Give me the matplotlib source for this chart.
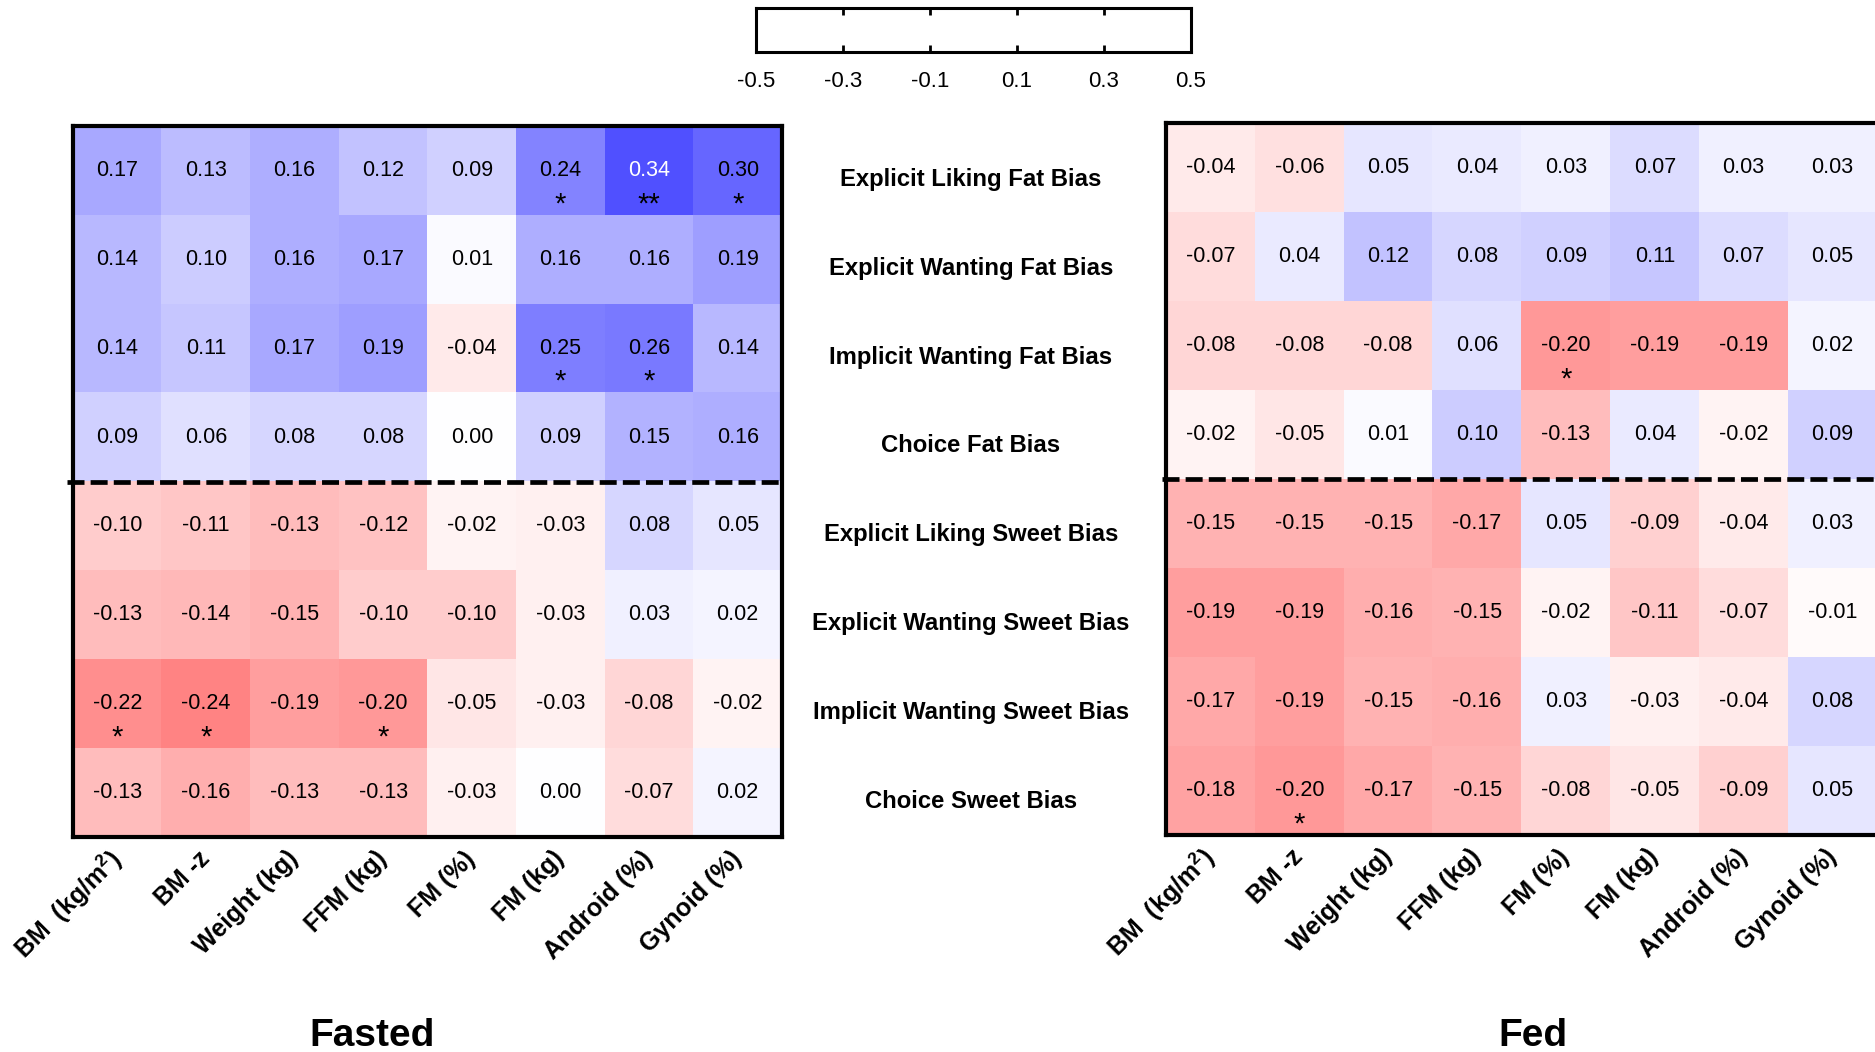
import numpy as np
import matplotlib.pyplot as plt
from matplotlib import transforms

plt.rcParams["font.family"] = "Liberation Sans"
plt.rcParams["mathtext.fontset"] = "custom"
plt.rcParams["mathtext.rm"] = "Liberation Sans"
plt.rcParams["mathtext.bf"] = "Liberation Sans:bold"

# Body composition measures (columns) and bias measures (rows)
measures = ["BM  (kg/m$^{\\mathbf{2}}$)", "BM -z", "Weight (kg)", "FFM (kg)",
            "FM (%)", "FM (kg)", "Android (%)", "Gynoid (%)"]
biases = ["Explicit Liking Fat Bias", "Explicit Wanting Fat Bias",
          "Implicit Wanting Fat Bias", "Choice Fat Bias",
          "Explicit Liking Sweet Bias", "Explicit Wanting Sweet Bias",
          "Implicit Wanting Sweet Bias", "Choice Sweet Bias"]

# Correlation coefficients, fasted condition
fasted = [
    [0.17, 0.13, 0.16, 0.12, 0.09, 0.24, 0.34, 0.30],
    [0.14, 0.10, 0.16, 0.17, 0.01, 0.16, 0.16, 0.19],
    [0.14, 0.11, 0.17, 0.19, -0.04, 0.25, 0.26, 0.14],
    [0.09, 0.06, 0.08, 0.08, 0.00, 0.09, 0.15, 0.16],
    [-0.10, -0.11, -0.13, -0.12, -0.02, -0.03, 0.08, 0.05],
    [-0.13, -0.14, -0.15, -0.10, -0.10, -0.03, 0.03, 0.02],
    [-0.22, -0.24, -0.19, -0.20, -0.05, -0.03, -0.08, -0.02],
    [-0.13, -0.16, -0.13, -0.13, -0.03, 0.00, -0.07, 0.02],
]
fasted_sig = [
    ["", "", "", "", "", "*", "**", "*"],
    ["", "", "", "", "", "", "", ""],
    ["", "", "", "", "", "*", "*", ""],
    ["", "", "", "", "", "", "", ""],
    ["", "", "", "", "", "", "", ""],
    ["", "", "", "", "", "", "", ""],
    ["*", "*", "", "*", "", "", "", ""],
    ["", "", "", "", "", "", "", ""],
]

# Correlation coefficients, fed condition
fed = [
    [-0.04, -0.06, 0.05, 0.04, 0.03, 0.07, 0.03, 0.03],
    [-0.07, 0.04, 0.12, 0.08, 0.09, 0.11, 0.07, 0.05],
    [-0.08, -0.08, -0.08, 0.06, -0.20, -0.19, -0.19, 0.02],
    [-0.02, -0.05, 0.01, 0.10, -0.13, 0.04, -0.02, 0.09],
    [-0.15, -0.15, -0.15, -0.17, 0.05, -0.09, -0.04, 0.03],
    [-0.19, -0.19, -0.16, -0.15, -0.02, -0.11, -0.07, -0.01],
    [-0.17, -0.19, -0.15, -0.16, 0.03, -0.03, -0.04, 0.08],
    [-0.18, -0.20, -0.17, -0.15, -0.08, -0.05, -0.09, 0.05],
]
fed_sig = [
    ["", "", "", "", "", "", "", ""],
    ["", "", "", "", "", "", "", ""],
    ["", "", "", "", "*", "", "", ""],
    ["", "", "", "", "", "", "", ""],
    ["", "", "", "", "", "", "", ""],
    ["", "", "", "", "", "", "", ""],
    ["", "", "", "", "", "", "", ""],
    ["", "*", "", "", "", "", "", ""],
]

cbar_ticks = [-0.5, -0.3, -0.1, 0.1, 0.3, 0.5]

W, H = 1875, 1052
fig = plt.figure(figsize=(W / 100, H / 100), dpi=100)


def px_axes(left, top, right, bottom):
    return fig.add_axes([left / W, 1 - bottom / H, (right - left) / W, (bottom - top) / H])


def draw_heatmap(ax, values, sig, dash_from):
    vals = np.array(values)
    ax.imshow(vals, cmap="bwr_r", vmin=-0.5, vmax=0.5, aspect="auto",
              interpolation="nearest")
    for i in range(vals.shape[0]):
        for j in range(vals.shape[1]):
            v = vals[i, j]
            color = "white" if abs(v) > 0.32 else "black"
            ax.text(j, i, f"{v:.2f}", ha="center", va="center",
                    fontsize=15.5, color=color)
            if sig[i][j]:
                ax.text(j, i + 0.47, sig[i][j], ha="center", va="baseline",
                        fontsize=21, color="black")
    ax.set_xticks(range(len(measures)))
    ax.set_xticklabels(measures, rotation=45, ha="right", va="center",
                       rotation_mode="anchor", fontsize=18, fontweight="bold")
    ax.set_yticks([])
    ax.tick_params(axis="x", length=0, pad=13)
    for s in ax.spines.values():
        s.set_linewidth(3)
    ax.axhline(3.5, xmin=dash_from, xmax=1.0, color="black", lw=3.4,
               linestyle=(0, (3.6, 1.3)), clip_on=False)


ax_fast = px_axes(73, 126, 782, 837)
draw_heatmap(ax_fast, fasted, fasted_sig, -0.008)

ax_fed = px_axes(1166, 123, 1877, 835)
draw_heatmap(ax_fed, fed, fed_sig, -0.005)

# Row labels between the two panels
trans = transforms.blended_transform_factory(fig.transFigure, ax_fast.transData)
for i, name in enumerate(biases):
    ax_fast.text(971 / W, i + 0.1, name, transform=trans, ha="center",
                 va="center", fontsize=17.2, fontweight="bold", clip_on=False)

# Condition titles
fig.text(372 / W, 1 - 1046 / H, "Fasted", ha="center", va="baseline",
         fontsize=28, fontweight="bold")
fig.text(1533 / W, 1 - 1046 / H, "Fed", ha="center", va="baseline",
         fontsize=28, fontweight="bold")

# Colour scale box
cax = px_axes(756, 8, 1191, 52)
cax.set_xlim(-0.5, 0.5)
cax.set_ylim(0, 1)
cax.set_yticks([])
cax.set_xticks(cbar_ticks)
cax.set_xticklabels([f"{t:.1f}" for t in cbar_ticks], fontsize=16)
cax.tick_params(axis="x", direction="in", top=True, bottom=True,
                length=5, width=2, pad=14)
for s in cax.spines.values():
    s.set_linewidth(2.2)

fig.savefig("out.png", dpi=100)
